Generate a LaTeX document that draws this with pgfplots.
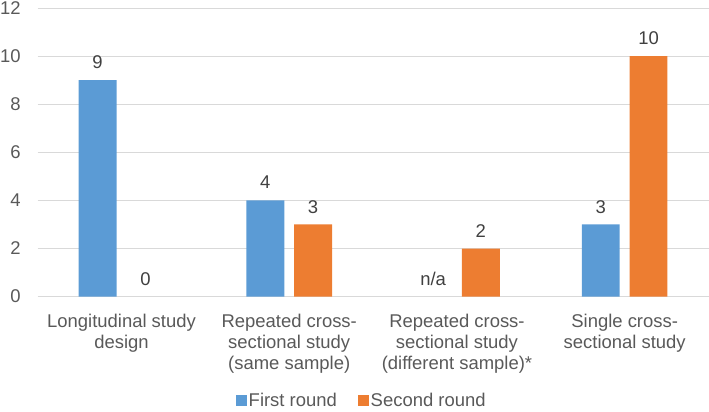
\documentclass[border=0pt]{standalone}
\usepackage{pgfplots}
\pgfplotsset{compat=1.18}
\usepackage{fontspec}
\setmainfont{Liberation Sans}
\definecolor{barblue}{HTML}{5B9BD5}
\definecolor{barorange}{HTML}{ED7D31}
\definecolor{gridgray}{HTML}{D9D9D9}
\definecolor{txtgray}{HTML}{595959}
\definecolor{lblgray}{HTML}{404040}
\begin{document}
\begin{tikzpicture}
\begin{axis}[
  name=ax,
  at={(0,0)}, anchor=south west,
  scale only axis,
  width=674bp, height=290bp,
  ybar=10bp, bar width=38bp,
  xmin=-0.5, xmax=3.5,
  ymin=0, ymax=12,
  xtick={0,1,2,3},
  xticklabels={{Longitudinal study\\design},{Repeated cross-\\sectional study\\(same sample)},{Repeated cross-\\sectional study\\(different sample)*},{Single cross-\\sectional study}},
  ytick={0,2,4,6,8,10,12},
  ymajorgrids, grid style={gridgray, line width=0.9bp},
  axis line style={draw=none},
  major tick length=0pt,
  tick label style={font=\fontsize{18.6}{21.5}\selectfont, text=txtgray},
  /pgf/number format/assume math mode=true,
  xticklabel style={align=center, anchor=north, inner sep=0pt, yshift=-17bp},
  yticklabel style={anchor=east, inner sep=0pt, xshift=-17bp},
  nodes near coords,
  point meta=explicit symbolic,
  every node near coord/.append style={font=\fontsize{18.6}{21}\selectfont, text=lblgray, anchor=base, inner sep=0pt, yshift=11.5bp},
  legend style={at={(0.483,-0.3586)}, anchor=center, draw=none, fill=none, font=\fontsize{18.6}{21}\selectfont, text=txtgray, legend columns=2, /tikz/every even column/.append style={column sep=19bp}},
  legend image code/.code={\fill[#1] (0bp,-5.5bp) rectangle (11bp,5.5bp);},
]
% First round (the n/a category has no bar)
\addplot[fill=barblue, draw=none, bar shift=-24bp] table[meta=lab] {
x y lab
0 9 9
1 4 4
3 3 3
};
% Second round (the zero value has no visible bar)
\addplot[fill=barorange, draw=none, bar shift=24bp] table[meta=lab] {
x y lab
1 3 3
2 2 2
3 10 10
};
\legend{First round, Second round}
% labels of the categories without a bar
\addplot[forget plot, draw=none, fill=none, bar shift=-24bp] table[meta=lab] {
x y lab
2 0 n/a
};
\addplot[forget plot, draw=none, fill=none, bar shift=24bp] table[meta=lab] {
x y lab
0 0 0
};
\end{axis}
\path[use as bounding box] ([xshift=-35bp,yshift=-112bp]ax.south west) rectangle ([yshift=8bp]ax.north east);
\end{tikzpicture}
\end{document}
